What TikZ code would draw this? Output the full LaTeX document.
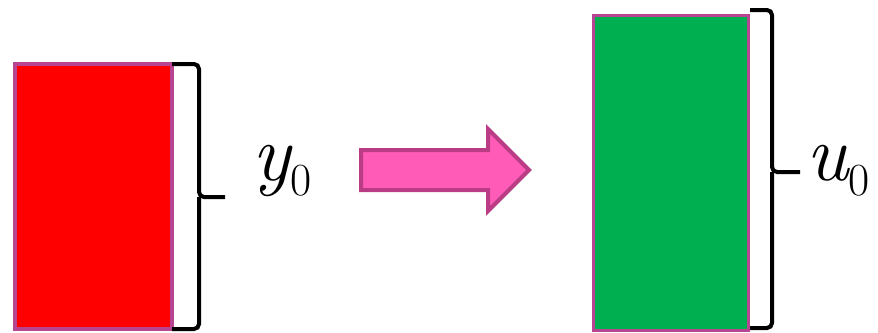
\documentclass[tikz,border=0pt]{standalone}
\definecolor{edgepink}{RGB}{184,69,146}
\definecolor{arrowfill}{RGB}{255,91,183}
\definecolor{arrowedge}{RGB}{185,60,132}
\definecolor{blockgreen}{RGB}{0,176,80}
\newcommand{\sublbl}[2]{{\itshape #1}\raisebox{-15pt}{\fontsize{46}{50}\selectfont #2}}

\begin{document}
\begin{tikzpicture}[x=1pt,y=-1pt,
  block/.style={draw=edgepink,inner sep=0pt,outer sep=0pt},
  brc/.style={line width=4pt,rounded corners=5pt},
  lbl/.style={anchor=base west,inner sep=0pt,font=\fontsize{80}{84}\selectfont}]
\useasboundingbox (0,0) rectangle (878,332);
% the two blocks
\node[block,fill=red,line width=4pt,minimum width=157pt,minimum height=265pt] (ys) at (93.5,196.5) {};
\node[block,fill=blockgreen,line width=3pt,minimum width=155pt,minimum height=315pt] (us) at (670.5,172.5) {};
% the arrow between them
\filldraw[draw=arrowedge,fill=arrowfill,line width=4pt] (361,150) -- (488,150) -- (488,129) -- (529,170)
  -- (488,211) -- (488,190) -- (361,190) -- cycle;
% braces
\draw[brc] (ys.north east) -| (199,197) -- (225,197);
\draw[brc] (ys.south east) -| (199,197);
\draw[brc] (750,10) -| (772,172) -- (800,172);
\draw[brc] (750,328) -| (772,172);
% labels
\node[lbl] (ylab) at (252,180) {\sublbl{y}{0}};
\node[lbl] (ulab) at (806,180) {\sublbl{u}{0}};
\end{tikzpicture}
\end{document}
